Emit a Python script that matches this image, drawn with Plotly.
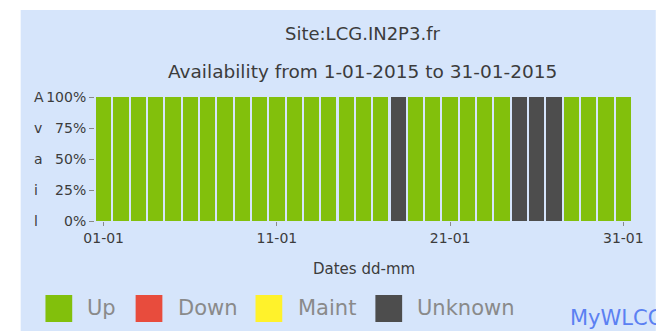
import plotly.graph_objects as go

# Daily availability for LCG.IN2P3.fr, January 2015 (percent of the day)
days = list(range(1, 32))
up = [100] * 31
unknown = [0] * 31
for d in (18, 25, 26, 27):
    up[d - 1] = 0
    unknown[d - 1] = 100
down = [0] * 31
maint = [0] * 31

series_names = ["Up", "Down", "Maint", "Unknown"]
series_values = [up, down, maint, unknown]
series_colors = ["#82c00c", "#e84c3d", "#fff22b", "#4d4d4d"]

x_tick_vals = [1, 11, 21, 31]
x_tick_text = ["01-01", "11-01", "21-01", "31-01"]
y_tick_vals = [0, 25, 50, 75, 100]
y_tick_text = ["0%", "25%", "50%", "75%", "100%"]

W, H = 656, 331
L, R, T, B = 95, 19, 97, 110
pw, ph = W - L - R, H - T - B
panel = "#d6e5fb"
text_col = "#3c3c3c"
font = "DejaVu Sans, Verdana, sans-serif"


def px(x):
    return (x - L) / pw


def py(y):
    return (H - B - y) / ph


fig = go.Figure()
for name, vals, col in zip(series_names, series_values, series_colors):
    fig.add_trace(go.Bar(x=days, y=vals, name=name, marker=dict(color=col, line=dict(width=0)),
                         showlegend=False))

shapes = [dict(type="rect", xref="paper", yref="paper", x0=px(20), x1=px(W + 5),
               y0=py(H + 5), y1=py(10), fillcolor=panel, line=dict(width=0), layer="below")]
annotations = [
    dict(text="Site:LCG.IN2P3.fr", x=px(365), y=py(33), font=dict(size=18)),
    dict(text="Availability from 1-01-2015 to 31-01-2015", x=px(365), y=py(71), font=dict(size=18.5)),
    dict(text="Dates dd-mm", x=px(366), y=py(269), font=dict(size=15)),
    dict(text="MyWLCG", x=px(572), y=py(318), xanchor="left", font=dict(size=21, color="#5b80f2")),
]
for letter, v in zip("Avail", [100, 75, 50, 25, 0]):
    annotations.append(dict(text=letter, x=px(31), yref="y", y=v, font=dict(size=14)))

# hand-drawn legend boxes
legend_box_x = [45, 136, 257, 378]
legend_text_x = [85, 177, 298, 418]
for name, col, bx, tx in zip(series_names, series_colors, legend_box_x, legend_text_x):
    shapes.append(dict(type="rect", xref="paper", yref="paper", x0=px(bx), x1=px(bx + 27),
                       y0=py(322), y1=py(295), fillcolor=col, line=dict(width=0)))
    annotations.append(dict(text=name, x=px(tx), y=py(308), xanchor="left",
                            font=dict(size=21, color="#8a8a8a")))

for a in annotations:
    a.setdefault("xref", "paper")
    a.setdefault("yref", "paper")
    a.setdefault("yanchor", "middle")
    a.setdefault("showarrow", False)
    a["font"].setdefault("color", text_col)
    a["font"]["family"] = font

fig.update_layout(
    width=W, height=H, barmode="stack", bargap=0.12,
    margin=dict(l=L, r=R, t=T, b=B),
    paper_bgcolor="white", plot_bgcolor=panel,
    font=dict(family=font, size=14, color=text_col),
    shapes=shapes, annotations=annotations,
)
fig.update_xaxes(range=[0.5, 31.5], tickvals=x_tick_vals, ticktext=x_tick_text,
                 ticks="outside", ticklen=4, tickcolor="#8a8a8a", showgrid=False,
                 zeroline=False, showline=False, fixedrange=True)
fig.update_yaxes(range=[0, 100], tickvals=y_tick_vals, ticktext=y_tick_text,
                 ticks="outside", ticklen=5, tickcolor="#8a8a8a", showgrid=False,
                 zeroline=False, showline=False, fixedrange=True)

fig.write_html("out.html", config={"displayModeBar": False})
